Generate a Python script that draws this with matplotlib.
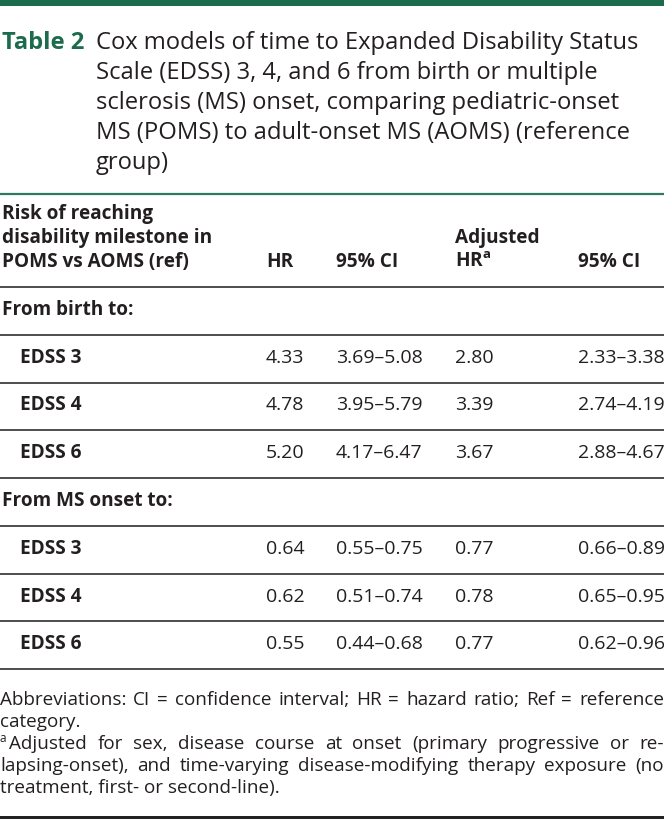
import matplotlib
matplotlib.use('Agg')
import matplotlib.pyplot as plt

plt.rcParams['font.family'] = ['Open Sans', 'DejaVu Sans']
plt.rcParams['mathtext.fontset'] = 'custom'
plt.rcParams['mathtext.rm'] = 'Open Sans'
plt.rcParams['mathtext.bf'] = 'Open Sans:bold'

# ---- table content ----
title_label = 'Table 2'
title_lines = ['Cox models of time to Expanded Disability Status',
               'Scale (EDSS) 3, 4, and 6 from birth or multiple',
               'sclerosis (MS) onset, comparing pediatric-onset',
               'MS (POMS) to adult-onset MS (AOMS) (reference',
               'group)']

header_first = ['Risk of reaching', 'disability milestone in', 'POMS vs AOMS (ref)']
header_cols = ['HR', '95% CI', r'Adjusted' + '\n' + r'HR$^{\mathbf{a}}$', '95% CI']

sections = ['From birth to:', 'From MS onset to:']
milestones = ['EDSS 3', 'EDSS 4', 'EDSS 6']
hr = [['4.33', '4.78', '5.20'], ['0.64', '0.62', '0.55']]
hr_ci = [['3.69–5.08', '3.95–5.79', '4.17–6.47'], ['0.55–0.75', '0.51–0.74', '0.44–0.68']]
adj_hr = [['2.80', '3.39', '3.67'], ['0.77', '0.78', '0.77']]
adj_ci = [['2.33–3.38', '2.74–4.19', '2.88–4.67'], ['0.66–0.89', '0.65–0.95', '0.62–0.96']]

foot_abbrev = ['Abbreviations: CI = confidence interval; HR = hazard ratio; Ref = reference',
               'category.']
foot_adj = ['Adjusted for sex, disease course at onset (primary progressive or re-',
            'lapsing-onset), and time-varying disease-modifying therapy exposure (no',
            'treatment, first- or second-line).']

# ---- styling ----
W, H = 664, 819
GREEN = '#1d6b4d'
TXT = '#231f20'
RULE = '#4d4d4d'
fs_title = 17.1
fs_bold = 13.7
fs_body = 14.0
fs_foot = 13.6

fig = plt.figure(figsize=(W / 100, H / 100), dpi=100)
ax = fig.add_axes([0, 0, 1, 1])
ax.set_xlim(0, W)
ax.set_ylim(H, 0)
ax.axis('off')
renderer = fig.canvas.get_renderer()


def rule(y, color=RULE, lw=1.4):
    ax.plot([0, W], [y, y], color=color, lw=lw, solid_capstyle='butt')


def width(t):
    return t.get_window_extent(renderer).width


def justify(words, x0, x1, y, fs, first_offset=0.0):
    ts = [ax.text(0, y, w, fontsize=fs, color=TXT, va='baseline') for w in words]
    ws = [width(t) for t in ts]
    gap = (x1 - x0 - first_offset - sum(ws)) / (len(words) - 1)
    x = x0 + first_offset
    for t, w in zip(ts, ws):
        t.set_x(x)
        x += w + gap


# top bar and title
ax.add_patch(plt.Rectangle((0, 0), W, 6, color=GREEN, lw=0))
ax.text(2, 49, title_label, fontsize=fs_title, fontweight='bold', color=GREEN, va='baseline')
for i, line in enumerate(title_lines):
    ax.text(96, 49 + 30 * i, line, fontsize=fs_title, color=TXT, va='baseline')
rule(193.5, color='#2e7a5c', lw=1.6)

# header
col_x = [266, 336, 455, 578]
for i, line in enumerate(header_first):
    ax.text(2, 219 + 24 * i, line, fontsize=fs_bold, fontweight='bold', color=TXT, va='baseline')
for x, lab in zip(col_x, header_cols):
    ax.text(x, 267, lab, fontsize=fs_bold, fontweight='bold', color=TXT, va='baseline',
            linespacing=1.25, ha='left', multialignment='left')
rule(286.5)

# body
y_sec = [315, 506]
y_rule_sec = [335, 526]
for s, sec in enumerate(sections):
    ax.text(2, y_sec[s], sec, fontsize=fs_bold, fontweight='bold', color=TXT, va='baseline')
    rule(y_rule_sec[s])
    for r, m in enumerate(milestones):
        yb = y_rule_sec[s] + 28 + 47.5 * r
        ax.text(20, yb, m, fontsize=fs_bold, fontweight='bold', color=TXT, va='baseline')
        vals = [hr[s][r], hr_ci[s][r], adj_hr[s][r], adj_ci[s][r]]
        for x, v in zip(col_x, vals):
            ax.text(x, yb, v, fontsize=fs_body, color=TXT, va='baseline')
        rule(y_rule_sec[s] + 47.5 * (r + 1))

# footnotes
justify(foot_abbrev[0].split(), 0, 664, 705, fs_foot)
ax.text(0, 727, foot_abbrev[1], fontsize=fs_foot, color=TXT, va='baseline')
ax.text(0, 742, 'a', fontsize=8.5, color=TXT, va='baseline')
justify(foot_adj[0].split(), 0, 664, 749, fs_foot, first_offset=9)
justify(foot_adj[1].split(), 0, 664, 771, fs_foot)
ax.text(0, 793, foot_adj[2], fontsize=fs_foot, color=TXT, va='baseline')

ax.add_patch(plt.Rectangle((0, 816), W, 3, color='#222222', lw=0))

fig.savefig('out.png', dpi=100)
